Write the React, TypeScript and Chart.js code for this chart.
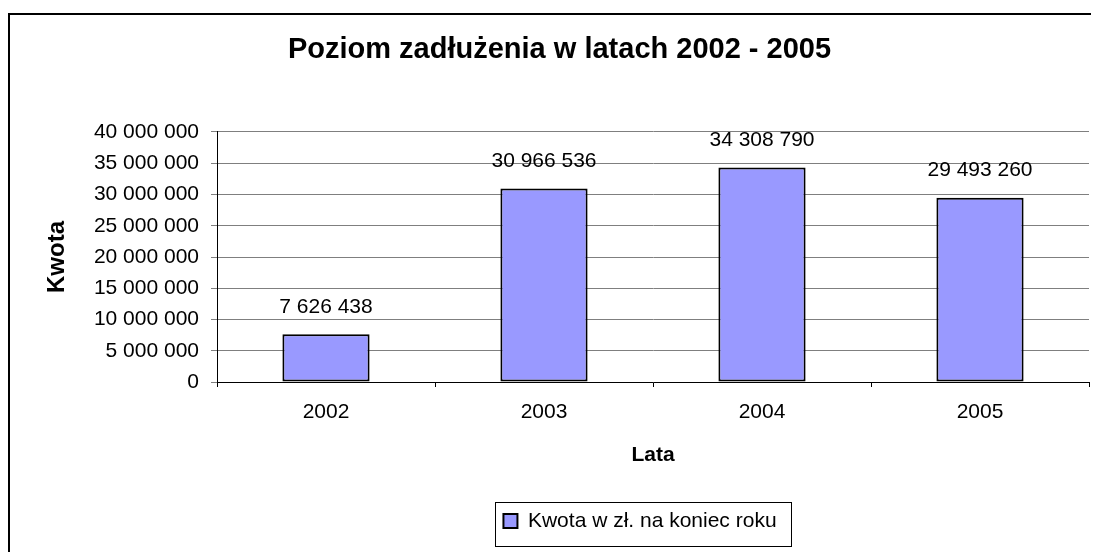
import React, { useEffect, useRef } from 'react';
import { Chart, registerables } from 'chart.js';

Chart.register(...registerables);

const chartTitle = 'Poziom zadłużenia w latach 2002 - 2005';
const categories = ['2002', '2003', '2004', '2005'];
const seriesLabel = 'Kwota w zł. na koniec roku';
const values = [7626438, 30966536, 34308790, 29493260];
const yMin = 0;
const yMax = 40000000;
const yStep = 5000000;
const xAxisTitle = 'Lata';
const yAxisTitle = 'Kwota';

const FONT = "'Liberation Sans', Arial, Helvetica, sans-serif";
const fmt = (v: number) => Math.round(v).toString().replace(/\B(?=(\d{3})+(?!\d))/g, ' ');

export default function App() {
  const ref = useRef<HTMLCanvasElement>(null);

  useEffect(() => {
    document.documentElement.style.overflow = 'hidden';
    if (!ref.current) return;

    const framePlugin = {
      id: 'outerFrame',
      beforeDraw(chart: any) {
        const ctx = chart.ctx;
        ctx.save();
        ctx.strokeStyle = '#000';
        ctx.lineWidth = 2;
        ctx.strokeRect(1, 6, chart.width + 20, chart.height + 20);
        ctx.restore();
      },
    };

    const dataLabelPlugin = {
      id: 'dataLabels',
      afterDatasetsDraw(chart: any) {
        const ctx = chart.ctx;
        const meta = chart.getDatasetMeta(0);
        ctx.save();
        ctx.font = `21px ${FONT}`;
        ctx.fillStyle = '#000';
        ctx.textAlign = 'center';
        ctx.textBaseline = 'middle';
        meta.data.forEach((bar: any, i: number) => {
          ctx.fillText(fmt(values[i]), bar.x, bar.y - 27);
        });
        ctx.restore();
      },
    };

    const legendShiftPlugin = {
      id: 'legendShift',
      afterLayout(chart: any) {
        const lg = chart.legend;
        if (lg) {
          lg.left -= 13;
          lg.right -= 13;
        }
      },
    };

    const legendFramePlugin = {
      id: 'legendFrame',
      afterDraw(chart: any) {
        const lg = chart.legend;
        if (!lg || !lg.lineWidths) return;
        const p = lg.options.labels.padding;
        const lw = lg.lineWidths[0];
        const x0 = (lg.left + p + lg.right - lw) / 2;
        const x1 = x0 + lw - p;
        const ctx = chart.ctx;
        ctx.save();
        ctx.strokeStyle = '#000';
        ctx.lineWidth = 1;
        const l = Math.round(x0 - 8) + 0.5;
        const r = Math.round(x1 + 14) + 0.5;
        const t = Math.round(lg.top + 1.5) + 0.5;
        const b = Math.round(lg.top + 45.5) + 0.5;
        ctx.strokeRect(l, t, r - l, b - t);
        ctx.restore();
      },
    };

    const chart = new Chart(ref.current, {
      type: 'bar',
      data: {
        labels: categories,
        datasets: [
          {
            label: seriesLabel,
            data: values,
            backgroundColor: '#9999FF',
            borderColor: '#000',
            borderWidth: 2,
            borderSkipped: false,
            categoryPercentage: 1,
            barPercentage: 0.4,
          },
        ],
      },
      options: {
        animation: false,
        responsive: true,
        maintainAspectRatio: false,
        layout: { padding: { left: 22, right: 10, top: 0, bottom: 10.5 } },
        plugins: {
          title: {
            display: true,
            text: chartTitle,
            color: '#000',
            font: { family: FONT, size: 29, weight: 'bold' },
            padding: { top: 24.6, bottom: 64.6 },
          },
          legend: {
            display: true,
            position: 'bottom',
            fullSize: false,
            labels: {
              color: '#000',
              font: { family: FONT, size: 21 },
              boxWidth: 14,
              boxHeight: 14,
              padding: 10,
            },
          },
          tooltip: { enabled: false },
        },
        scales: {
          x: {
            offset: true,
            grid: {
              display: true,
              offset: true,
              drawOnChartArea: false,
              drawTicks: true,
              tickLength: 5,
              color: '#000',
            },
            border: { display: true, color: '#000', width: 1 },
            ticks: {
              color: '#000',
              font: { family: FONT, size: 21 },
              padding: 12.4,
              maxRotation: 0,
            },
            title: {
              display: true,
              text: xAxisTitle,
              color: '#000',
              font: { family: FONT, size: 21, weight: 'bold' },
              padding: { top: 0, bottom: 32.9 },
            },
            afterFit(scale: any) {
              scale.height = 118.5;
            },
          },
          y: {
            min: yMin,
            max: yMax,
            grid: {
              display: true,
              color: '#7f7f7f',
              drawTicks: true,
              tickLength: 6,
              lineWidth: 1,
            },
            border: { display: true, color: '#000', width: 1 },
            ticks: {
              stepSize: yStep,
              color: '#000',
              font: { family: FONT, size: 21 },
              padding: 12,
              callback: (v: any) => fmt(Number(v)),
            },
            title: {
              display: true,
              text: yAxisTitle,
              color: '#000',
              font: { family: FONT, size: 24, weight: 'bold' },
              padding: { top: 12.6, bottom: 0 },
            },
            afterFit(scale: any) {
              scale.width = 187;
            },
          },
        },
      },
      plugins: [framePlugin, dataLabelPlugin, legendShiftPlugin, legendFramePlugin],
    } as any);

    return () => chart.destroy();
  }, []);

  return (
    <div style={{ position: 'relative', width: 1091, height: 544 }}>
      <canvas ref={ref} />
    </div>
  );
}
